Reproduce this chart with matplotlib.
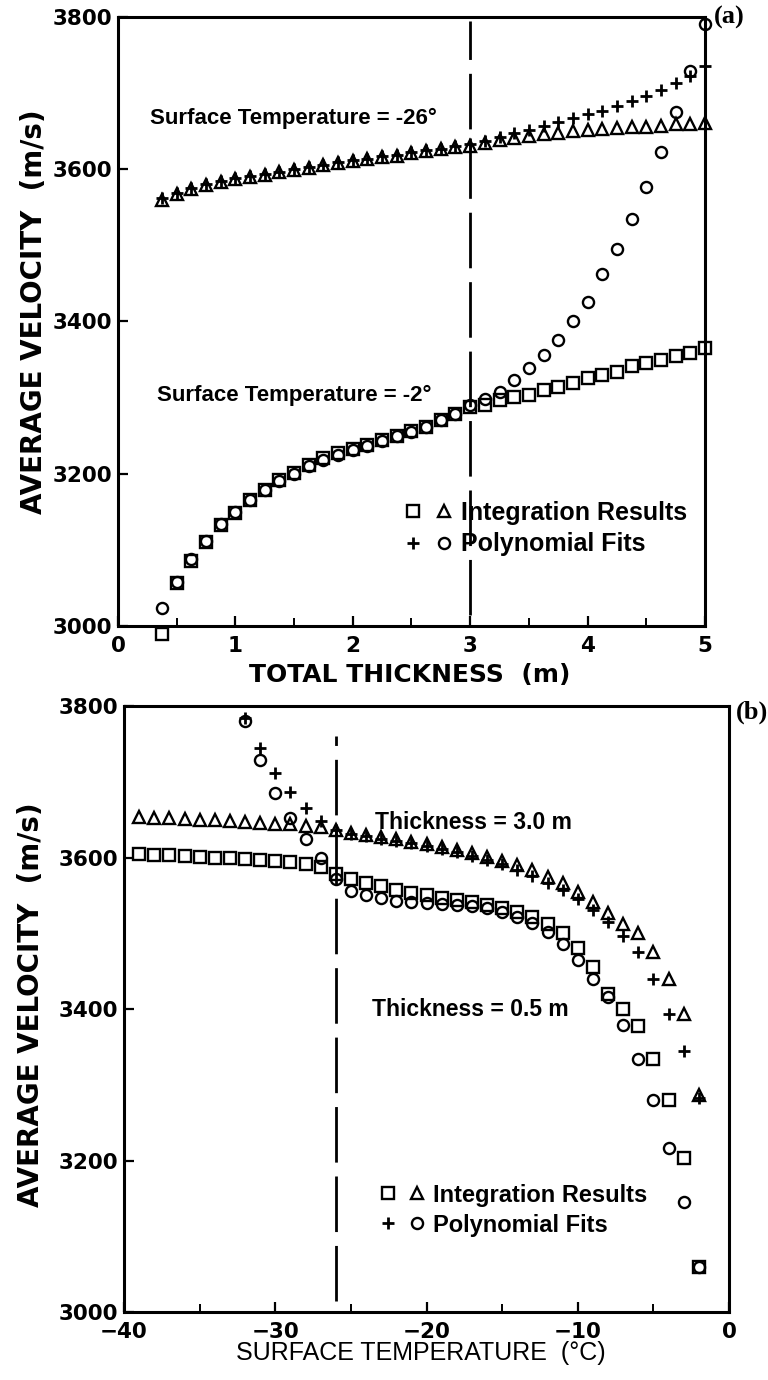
import matplotlib
matplotlib.use('Agg')
from matplotlib import pyplot as plt
from matplotlib.lines import Line2D
from matplotlib.legend_handler import HandlerTuple

plt.rcParams['font.family'] = ['Liberation Sans', 'DejaVu Sans']
plt.rcParams['font.weight'] = 'bold'
WIDE = ['DejaVu Sans', 'Liberation Sans']
SERIF = ['Liberation Serif', 'DejaVu Serif']

# ---- panel (a): velocity vs total thickness ----
thick = [0.375, 0.5, 0.625, 0.75, 0.875, 1.0, 1.125, 1.25, 1.375, 1.5,
         1.625, 1.75, 1.875, 2.0, 2.125, 2.25, 2.375, 2.5, 2.625, 2.75,
         2.875, 3.0, 3.125, 3.25, 3.375, 3.5, 3.625, 3.75, 3.875, 4.0,
         4.125, 4.25, 4.375, 4.5, 4.625, 4.75, 4.875, 5.0]
# surface temperature -2 deg
a_sq = [2990, 3056, 3085, 3110, 3133, 3149, 3166, 3179, 3192, 3201,
        3212, 3220, 3227, 3232, 3238, 3244, 3250, 3256, 3262, 3270,
        3278, 3287, 3290, 3297, 3301, 3304, 3310, 3314, 3319, 3326,
        3330, 3334, 3341, 3345, 3350, 3354, 3358, 3365]
a_circ = [3023, 3058, 3088, 3112, 3134, 3150, 3165, 3178, 3190, 3200,
          3210, 3218, 3225, 3231, 3237, 3243, 3249, 3255, 3262, 3270,
          3279, 3290, 3298, 3308, 3323, 3339, 3356, 3376, 3400, 3426,
          3462, 3495, 3534, 3576, 3622, 3675, 3729, 3791]
# surface temperature -26 deg
a_tri = [3560, 3568, 3574, 3579, 3583, 3587, 3590, 3593, 3596, 3599,
         3602, 3605, 3608, 3611, 3613, 3616, 3618, 3621, 3624, 3626,
         3629, 3631, 3634, 3638, 3641, 3643, 3646, 3648, 3650, 3651,
         3653, 3654, 3655, 3656, 3657, 3659, 3660, 3661]
a_plus = [3562, 3569, 3575, 3580, 3584, 3588, 3591, 3594, 3597, 3600,
          3603, 3606, 3609, 3612, 3614, 3617, 3619, 3622, 3625, 3627,
          3630, 3633, 3637, 3642, 3647, 3652, 3657, 3662, 3667, 3672,
          3677, 3683, 3689, 3696, 3704, 3713, 3723, 3735]

# ---- panel (b): velocity vs surface temperature ----
temps = [-39, -38, -37, -36, -35, -34, -33, -32, -31, -30, -29, -28, -27,
         -26, -25, -24, -23, -22, -21, -20, -19, -18, -17, -16, -15, -14,
         -13, -12, -11, -10, -9, -8, -7, -6, -5, -4, -3, -2]
# thickness 3.0 m
b_tri = [3653, 3652, 3652, 3651, 3650, 3649, 3648, 3647, 3646, 3645, 3644,
         3642, 3640, 3636, 3633, 3630, 3627, 3624, 3621, 3618, 3614, 3610,
         3606, 3601, 3596, 3590, 3583, 3575, 3566, 3555, 3542, 3527, 3512,
         3500, 3476, 3440, 3393, 3287]
# thickness 0.5 m
b_sq = [3605, 3604, 3603, 3602, 3601, 3600, 3599, 3598, 3597, 3596, 3594,
        3592, 3588, 3578, 3572, 3567, 3562, 3557, 3553, 3550, 3547, 3544,
        3541, 3538, 3534, 3528, 3521, 3512, 3500, 3480, 3455, 3420, 3400,
        3378, 3334, 3280, 3203, 3060]
fit_temps = [-32, -31, -30, -29, -28, -27, -26, -25, -24, -23, -22, -21,
             -20, -19, -18, -17, -16, -15, -14, -13, -12, -11, -10, -9, -8,
             -7, -6, -5, -4, -3, -2]
b_plus = [3785, 3745, 3712, 3687, 3665, 3648, 3636, 3631, 3628, 3625, 3622,
          3619, 3615, 3611, 3607, 3602, 3597, 3591, 3584, 3576, 3567, 3557,
          3545, 3531, 3515, 3497, 3476, 3440, 3393, 3345, 3283]
b_circ = [3780, 3729, 3685, 3652, 3625, 3600, 3572, 3556, 3550, 3546, 3543,
          3541, 3540, 3539, 3538, 3536, 3533, 3528, 3522, 3513, 3502, 3486,
          3465, 3440, 3416, 3379, 3334, 3280, 3216, 3145, 3060]

ms = 8
open_kw = dict(ls='none', mfc='none', mec='black', mew=1.7, ms=ms, clip_on=False)
plus_kw = dict(ls='none', color='black', mew=2.0, ms=ms, clip_on=False)


def style_axes(ax):
    for s in ax.spines.values():
        s.set_linewidth(2.2)
    ax.tick_params(direction='in', length=7, width=1.6, labelsize=15.5)
    ax.tick_params(axis='x', pad=7)
    ax.tick_params(axis='y', pad=4)
    ax.tick_params(axis='x', which='minor', direction='in', length=6, width=1.4)
    for lab in ax.get_xticklabels() + ax.get_yticklabels():
        lab.set_fontweight('bold')
        lab.set_family(WIDE)


def add_key(ax, anchor, size):
    sq = Line2D([], [], marker='s', **open_kw)
    tri = Line2D([], [], marker='^', **open_kw)
    plus = Line2D([], [], marker='+', **plus_kw)
    circ = Line2D([], [], marker='o', **open_kw)
    ax.legend([(sq, tri), (plus, circ)], ['Integration Results', 'Polynomial Fits'],
              handler_map={tuple: HandlerTuple(ndivide=None, pad=0.5)},
              loc='center left', bbox_to_anchor=anchor, frameon=False,
              prop={'size': size, 'weight': 'bold'}, handlelength=2.0,
              handletextpad=0.3, labelspacing=0.3, borderpad=0)


fig = plt.figure(figsize=(7.68, 13.8), dpi=100)

ax1 = fig.add_axes([0.1536, 0.5464, 0.7643, 0.4413])
ax1.plot(thick, a_tri, marker='^', **open_kw)
ax1.plot(thick, a_plus, marker='+', **plus_kw)
ax1.plot(thick, a_sq, marker='s', **open_kw)
ax1.plot(thick, a_circ, marker='o', **open_kw)
ax1.plot([3, 3], [3015, 3795], color='black', lw=2, ls=(0, (20, 5)))
ax1.set_xlim(0, 5)
ax1.set_ylim(3000, 3800)
ax1.set_xticks([0, 1, 2, 3, 4, 5])
ax1.set_xticks([0.5, 1.5, 2.5, 3.5, 4.5], minor=True)
ax1.set_yticks([3000, 3200, 3400, 3600, 3800])
style_axes(ax1)
ax1.text(0.27, 3667, 'Surface Temperature = -26°', fontsize=16, va='center')
ax1.text(0.33, 3303, 'Surface Temperature = -2°', fontsize=16, va='center')
add_key(ax1, (0.465, 0.16), 18)
ax1.set_xlabel('TOTAL THICKNESS  (m)', fontsize=18, fontweight='bold', family=WIDE)
ax1.xaxis.set_label_coords(0.497, -0.061)
ax1.set_ylabel('AVERAGE VELOCITY  (m/s)', fontsize=20, fontweight='bold', family=WIDE)
ax1.yaxis.set_label_coords(-0.12, 0.516)
fig.text(0.93, 1 - 17 / 1380, '(a)', fontsize=19, fontweight='bold',
         family=SERIF, va='center')

ax2 = fig.add_axes([0.1615, 0.0493, 0.7878, 0.439])
ax2.plot(temps, b_tri, marker='^', **open_kw)
ax2.plot(fit_temps, b_plus, marker='+', **plus_kw)
ax2.plot(temps, b_sq, marker='s', **open_kw)
ax2.plot(fit_temps, b_circ, marker='o', **open_kw)
ax2.plot([-26, -26], [3015, 3760], color='black', lw=2, ls=(0, (20, 5)))
ax2.set_xlim(-40, 0)
ax2.set_ylim(3000, 3800)
ax2.set_xticks([-40, -30, -20, -10, 0])
ax2.set_xticks([-35, -25, -15, -5], minor=True)
ax2.set_yticks([3000, 3200, 3400, 3600, 3800])
style_axes(ax2)
ax2.text(-23.4, 3647, 'Thickness = 3.0 m', fontsize=16.5, va='center')
ax2.text(-23.6, 3399, 'Thickness = 0.5 m', fontsize=16.5, va='center')
add_key(ax2, (0.402, 0.168), 17)
ax2.set_xlabel('SURFACE TEMPERATURE  (°C)', fontsize=18, fontweight='normal')
ax2.xaxis.set_label_coords(0.49, -0.048)
ax2.set_ylabel('AVERAGE VELOCITY  (m/s)', fontsize=20, fontweight='bold', family=WIDE)
ax2.yaxis.set_label_coords(-0.13, 0.507)
fig.text(0.958, 1 - 712 / 1380, '(b)', fontsize=19, fontweight='bold',
         family=SERIF, va='center')

fig.savefig('out.png', dpi=100, facecolor='white')
